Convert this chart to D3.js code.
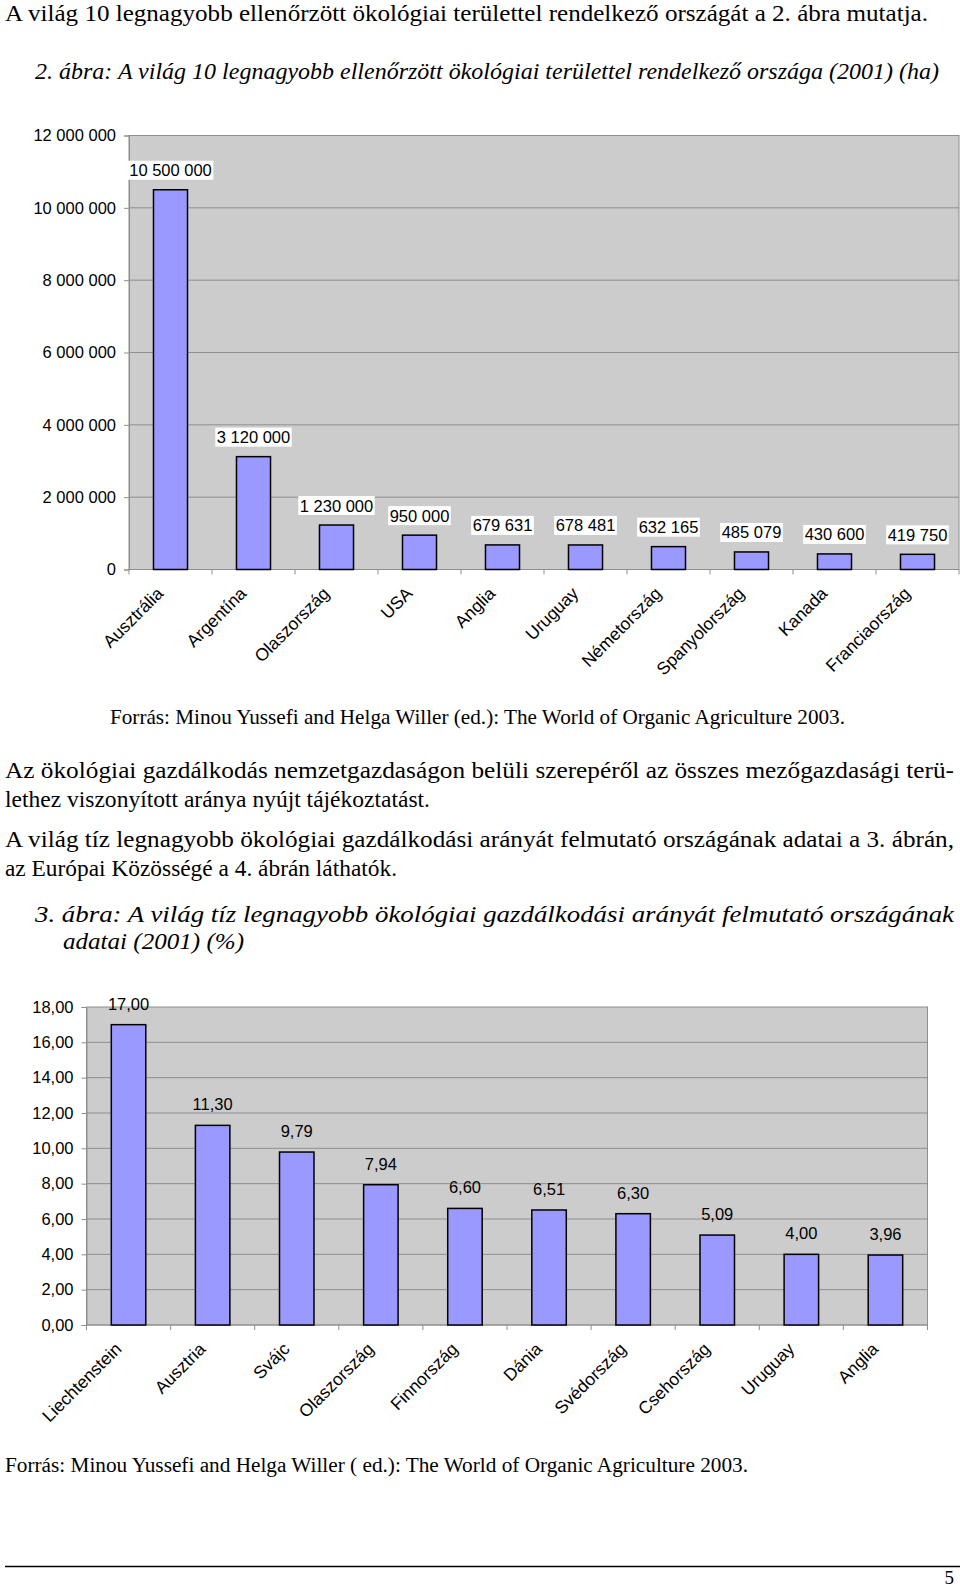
<!DOCTYPE html>
<html><head><meta charset="utf-8">
<script src="https://cdn.jsdelivr.net/npm/d3@7"></script>
<style>body{margin:0;background:#fff}svg{display:block}</style>
</head><body><svg id="c" width="960" height="1587"></svg>
<script>
// ---- data ----
const countries1 = ["Ausztrália","Argentína","Olaszország","USA","Anglia","Uruguay","Németország","Spanyolország","Kanada","Franciaország"];
const area1 = [10500000,3120000,1230000,950000,679631,678481,632165,485079,430600,419750];
const ticks1 = [0,2000000,4000000,6000000,8000000,10000000,12000000];

const countries2 = ["Liechtenstein","Ausztria","Svájc","Olaszország","Finnország","Dánia","Svédország","Csehország","Uruguay","Anglia"];
const share2 = [17.00,11.30,9.79,7.94,6.60,6.51,6.30,5.09,4.00,3.96];
const ticks2 = [0,2,4,6,8,10,12,14,16,18];

const loc = d3.formatLocale({decimal:",", thousands:" ", grouping:[3], currency:["",""]});
const fmt1 = loc.format(",.0f");
const fmt2 = loc.format(",.2f");

const svg = d3.select("#c");
const SANS = "'Liberation Sans', Arial, sans-serif";
const SERIF = "'Liberation Serif', 'Times New Roman', serif";

// ---- page text ----
function line(txt, x, y, size, w, italic){
  const t = svg.append("text").attr("x",x).attr("y",y)
    .style("font-family",SERIF).style("font-size",size+"px").attr("fill","#000")
    .style("font-style", italic ? "italic" : "normal").text(txt);
  if (w) t.attr("textLength",w).attr("lengthAdjust","spacingAndGlyphs");
  return t;
}
line("A világ 10 legnagyobb ellenőrzött ökológiai területtel rendelkező országát a 2. ábra mutatja.",5,21,24,923);
line("2. ábra: A világ 10 legnagyobb ellenőrzött ökológiai területtel rendelkező országa (2001) (ha)",35,79,23,904,true);
line("Forrás: Minou Yussefi and Helga Willer (ed.): The World of Organic Agriculture 2003.",110,724,21,735);
line("Az ökológiai gazdálkodás nemzetgazdaságon belüli szerepéről az összes mezőgazdasági terü-",5,778,24,949);
line("lethez viszonyított aránya nyújt tájékoztatást.",5,807,24,425);
line("A világ tíz legnagyobb ökológiai gazdálkodási arányát felmutató országának adatai a 3. ábrán,",5,847,24,949);
line("az Európai Közösségé a 4. ábrán láthatók.",5,876,24,392);
line("3. ábra: A világ tíz legnagyobb ökológiai gazdálkodási arányát felmutató országának",35,922,23,919,true);
line("adatai (2001) (%)",63,949,23,181,true);
line("Forrás: Minou Yussefi and Helga Willer ( ed.): The World of Organic Agriculture 2003.",5,1472,20,743);
svg.append("line").attr("x1",5).attr("x2",960).attr("y1",1566.5).attr("y2",1566.5).attr("stroke","#000").attr("stroke-width",1.5);
svg.append("text").attr("x",954).attr("y",1584).attr("text-anchor","end").style("font-family",SERIF).style("font-size","19px").text("5");

// ---- chart builder ----
function chart(cfg){
  const g = svg.append("g");
  const x = d3.scaleBand().domain(cfg.cats).range([cfg.left,cfg.right]).padding(0);
  const y = d3.scaleLinear().domain([0,d3.max(cfg.ticks)]).range([cfg.bottom,cfg.top]);
  const bw = x.bandwidth(), barW = bw*cfg.frac;
  g.append("rect").attr("x",cfg.left).attr("y",cfg.top).attr("width",cfg.right-cfg.left)
    .attr("height",cfg.bottom-cfg.top).attr("fill","#cccccc").attr("stroke","#8e8e8e").attr("stroke-width",1);
  g.selectAll(".grid").data(cfg.ticks.slice(1,-1)).join("line")
    .attr("x1",cfg.left).attr("x2",cfg.right).attr("y1",d=>y(d)).attr("y2",d=>y(d))
    .attr("stroke","#8e8e8e").attr("stroke-width",1);
  // y axis
  const ya = g.append("g").attr("transform",`translate(${cfg.left},0)`)
    .call(d3.axisLeft(y).tickValues(cfg.ticks).tickSize(5).tickPadding(8).tickFormat(cfg.fmt));
  ya.select(".domain").attr("stroke","#8e8e8e");
  ya.selectAll(".tick line").attr("stroke","#8e8e8e");
  ya.selectAll("text").style("font-family",SANS).style("font-size","16.5px").attr("fill","#000");
  ya.attr("font-family",null).attr("font-size",null);
  // x axis
  g.append("line").attr("x1",cfg.left).attr("x2",cfg.right).attr("y1",cfg.bottom).attr("y2",cfg.bottom).attr("stroke","#8e8e8e");
  const bounds = cfg.cats.map(c=>x(c)).concat([cfg.right]);
  g.selectAll(".xt").data(bounds).join("line").attr("x1",d=>d).attr("x2",d=>d)
    .attr("y1",cfg.bottom).attr("y2",cfg.bottom+5).attr("stroke","#8e8e8e");
  g.selectAll(".xl").data(cfg.cats).join("text")
    .attr("transform",c=>`translate(${x(c)+bw/2-6},${cfg.bottom+25}) rotate(-45)`)
    .attr("text-anchor","end").style("font-family",SANS).style("font-size","17.5px").attr("fill","#000").text(c=>c);
  // bars
  const data = cfg.cats.map((c,i)=>({c, v:cfg.vals[i]}));
  g.selectAll(".bar").data(data).join("rect")
    .attr("x",d=>x(d.c)+(bw-barW)/2).attr("width",barW)
    .attr("y",d=>y(d.v)).attr("height",d=>cfg.bottom-y(d.v))
    .attr("fill","#9999ff").attr("stroke","#000").attr("stroke-width",1.5);
  // labels
  const lg = g.selectAll(".lab").data(data).join("g");
  const lt = lg.append("text").attr("x",d=>x(d.c)+bw/2).attr("y",d=>y(d.v)-cfg.labOff)
    .attr("text-anchor","middle").style("font-family",SANS).style("font-size","16.5px").attr("fill","#000")
    .text(d=>cfg.fmt(d.v));
  if (cfg.labBg){
    lt.each(function(){
      const b = this.getBBox();
      d3.select(this.parentNode).insert("rect","text")
        .attr("x",b.x-1.5).attr("y",b.y-0.5).attr("width",b.width+3).attr("height",b.height+1).attr("fill","#fff");
    });
  }
}

chart({cats:countries1, vals:area1, ticks:ticks1, fmt:fmt1, left:129, right:959, top:135.5, bottom:569.5, frac:0.41, labOff:13.5, labBg:true});
chart({cats:countries2, vals:share2, ticks:ticks2, fmt:fmt2, left:86.5, right:927.5, top:1007, bottom:1325, frac:0.41, labOff:15, labBg:false});
</script></body></html>
